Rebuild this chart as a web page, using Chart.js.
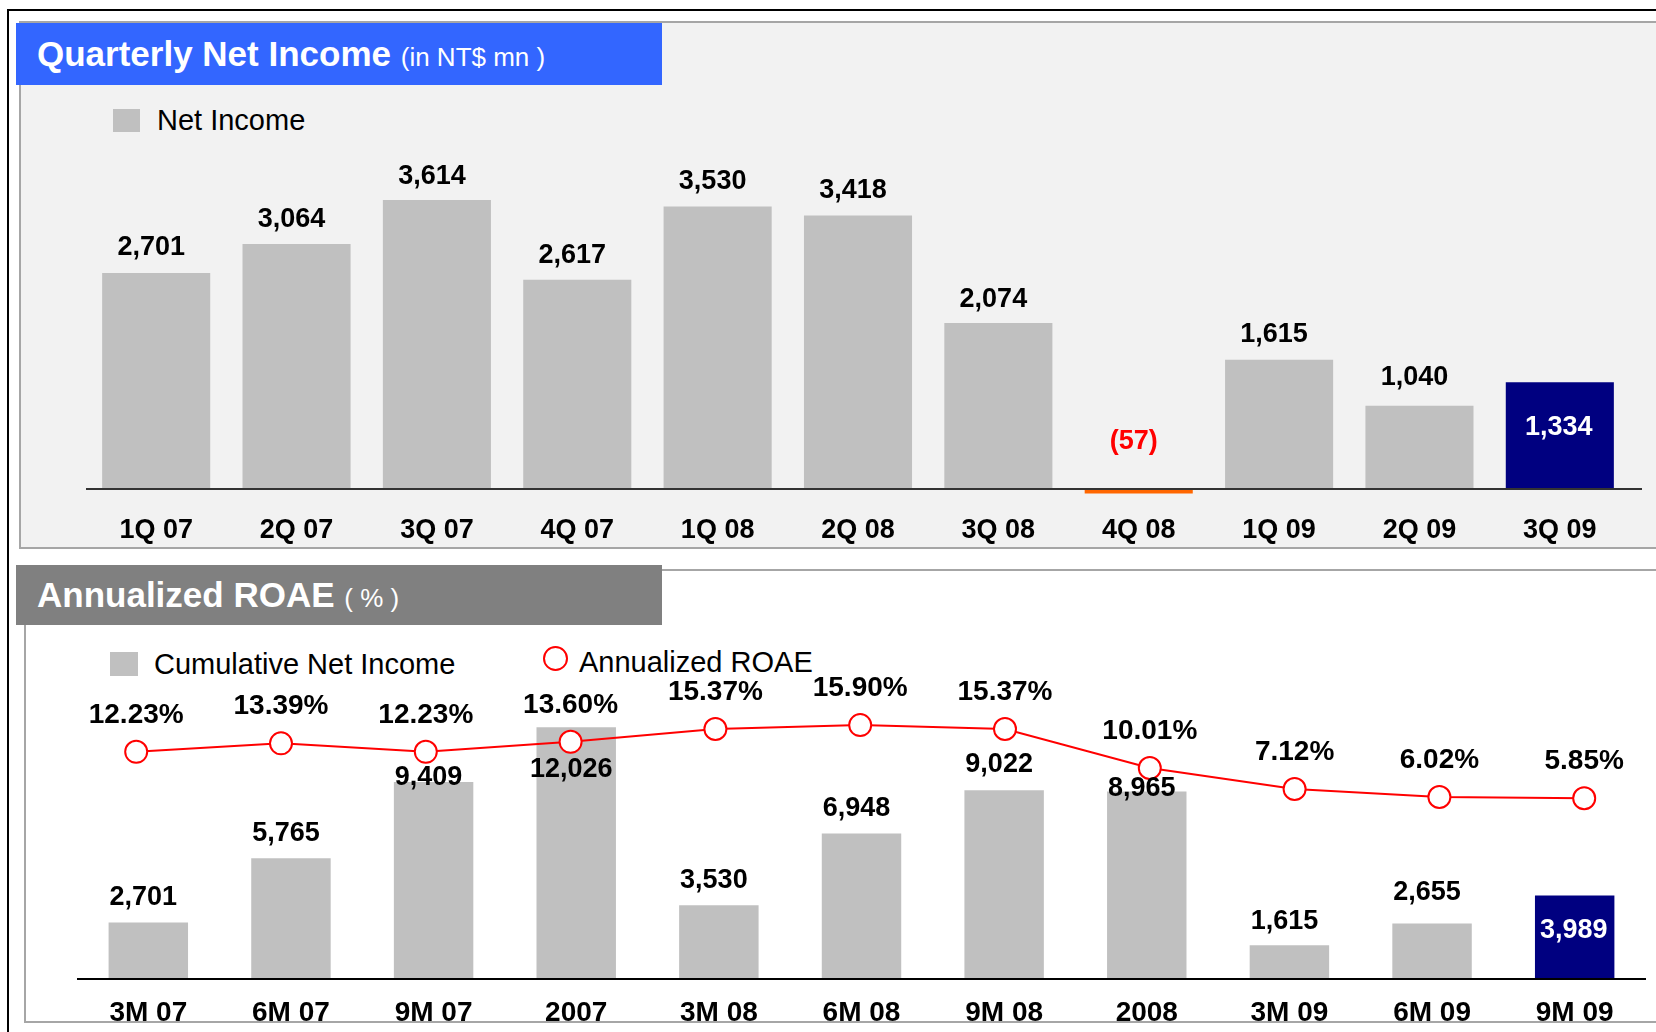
<!DOCTYPE html>
<html lang="en">
<head>
<meta charset="utf-8">
<title>Quarterly Net Income / Annualized ROAE</title>
<script src="https://cdn.jsdelivr.net/npm/chart.js@4.4.1/dist/chart.umd.min.js"></script>
<style>
    html, body { margin: 0; padding: 0; background: #fff; }
    body {
        position: relative; width: 1656px; height: 1032px; overflow: hidden;
        font-family: "Liberation Sans", Arial, sans-serif;
    }
    .abs { position: absolute; box-sizing: border-box; }
    .frame { left: 7px; top: 9px; width: 1700px; height: 1100px; border-top: 2px solid #000; border-left: 2px solid #000; }
    .panel { border: 2px solid #a6a6a6; width: 1700px; }
    #panelTop { left: 19px; top: 21px; height: 528px; background: #f2f2f2; }
    #panelBottom { left: 24px; top: 569px; height: 454px; background: #fff; }
    .header { left: 16px; width: 646px; color: #fff; padding-left: 21px; white-space: nowrap; font-size: 35px; }
    .header b { font-size: 35px; }
    .header span { font-size: 26px; }
    #headTop { top: 23px; height: 62px; line-height: 62px; background: #3366ff; }
    #headBottom { top: 565px; height: 60px; line-height: 60px; background: #808080; }
    .legend { font-size: 29px; line-height: 34px; color: #000; white-space: nowrap; }
    .swatch { background: #c0c0c0; }
    .ring { border: 2px solid #ff0000; border-radius: 50%; background: #fff; }
    canvas { position: absolute; }
</style>
</head>
<body>
<div class="abs frame"></div>

<div id="panelTop" class="abs panel"></div>
<div id="headTop" class="abs header"><b>Quarterly Net Income</b> <span>(in NT$ mn )</span></div>
<div class="abs swatch" style="left:113px; top:109px; width:27px; height:23px;"></div>
<div class="abs legend" style="left:157px; top:103px;">Net Income</div>
<canvas id="quarterChart" width="1556" height="447" style="left:86px; top:100px;"></canvas>

<div id="panelBottom" class="abs panel"></div>
<div id="headBottom" class="abs header"><b>Annualized ROAE</b> <span>( % )</span></div>
<div class="abs swatch" style="left:110px; top:652px; width:28px; height:24px;"></div>
<div class="abs legend" style="left:154px; top:647px;">Cumulative Net Income</div>
<div class="abs ring" style="left:543px; top:646px; width:25px; height:25px;"></div>
<div class="abs legend" style="left:579px; top:645px;">Annualized ROAE</div>
<canvas id="roaeChart" width="1569" height="408" style="left:77px; top:620px;"></canvas>

<script>
// ---------------- DATA ----------------
const quarters = ["1Q 07", "2Q 07", "3Q 07", "4Q 07", "1Q 08", "2Q 08", "3Q 08", "4Q 08", "1Q 09", "2Q 09", "3Q 09"];
const netIncome = [2701, 3064, 3614, 2617, 3530, 3418, 2074, -57, 1615, 1040, 1334];

const periods = ["3M 07", "6M 07", "9M 07", "2007", "3M 08", "6M 08", "9M 08", "2008", "3M 09", "6M 09", "9M 09"];
const cumulativeIncome = [2701, 5765, 9409, 12026, 3530, 6948, 9022, 8965, 1615, 2655, 3989];
const roae = [12.23, 13.39, 12.23, 13.60, 15.37, 15.90, 15.37, 10.01, 7.12, 6.02, 5.85];

// ---------------- STYLE ----------------
const FONT = "'Liberation Sans', Arial, sans-serif";
const GREY = "#c0c0c0";
const NAVY = "#000080";
const ORANGE = "#ff6600";
const RED = "#ff0000";

// px between bar top and its value label, as the labels sit on the slide
const quarterLift = [25, 24, 23, 24, 25, 25, 24, 47, 25, 28, -45];
const cumulativeLift = [25, 25, 5, -42, 25, 25, 26, 3, 24, 31, -35];
const roaeLift = 37;

function fmt(v) {
    const s = Math.abs(v).toLocaleString("en-US");
    return v < 0 ? "(" + s + ")" : s;
}

function barColors(values) {
    return values.map((v, i) => i === values.length - 1 ? NAVY : (v < 0 ? ORANGE : GREY));
}

function labelColors(values) {
    return values.map((v, i) => i === values.length - 1 ? "#fff" : (v < 0 ? RED : "#000"));
}

// ---------------- PLUGINS ----------------
function baseline(color, extend) {
    return {
        id: "baseline",
        afterDatasetsDraw(chart) {
            const { ctx, chartArea, scales } = chart;
            const y = Math.round(scales.y.getPixelForValue(0));
            ctx.save();
            ctx.strokeStyle = color;
            ctx.lineWidth = 2;
            ctx.beginPath();
            ctx.moveTo(chartArea.left, y);
            ctx.lineTo(chartArea.right + extend, y);
            ctx.stroke();
            ctx.restore();
        }
    };
}

function barLabels(datasetIndex, values, lifts, size) {
    const colors = labelColors(values);
    return {
        id: "barLabels",
        afterDatasetsDraw(chart) {
            const ctx = chart.ctx;
            const meta = chart.getDatasetMeta(datasetIndex);
            ctx.save();
            ctx.font = "bold " + size + "px " + FONT;
            ctx.textAlign = "center";
            ctx.textBaseline = "middle";
            meta.data.forEach((bar, i) => {
                const top = Math.min(bar.y, bar.base);
                const dx = colors[i] === "#fff" ? -1 : -5;
                ctx.fillStyle = colors[i];
                ctx.fillText(fmt(values[i]), bar.x + dx, top - lifts[i]);
            });
            ctx.restore();
        }
    };
}

function pointLabels(datasetIndex, values, lift, size) {
    return {
        id: "pointLabels",
        afterDatasetsDraw(chart) {
            const ctx = chart.ctx;
            const meta = chart.getDatasetMeta(datasetIndex);
            ctx.save();
            ctx.font = "bold " + size + "px " + FONT;
            ctx.textAlign = "center";
            ctx.textBaseline = "middle";
            ctx.fillStyle = "#000";
            meta.data.forEach((pt, i) => {
                ctx.fillText(values[i].toFixed(2) + "%", pt.x, pt.y - lift);
            });
            ctx.restore();
        }
    };
}

function categoryAxis(size, pad, height) {
    return {
        type: "category",
        grid: { display: false, drawTicks: false },
        border: { display: false },
        ticks: {
            color: "#000",
            font: { family: FONT, size: size, weight: "bold" },
            padding: pad,
            maxRotation: 0,
            autoSkip: false
        },
        afterFit(scale) { scale.height = height; }
    };
}

const common = {
    responsive: false,
    animation: false,
    events: [],
    plugins: { legend: { display: false }, tooltip: { enabled: false } }
};

// ---------------- QUARTERLY NET INCOME ----------------
new Chart(document.getElementById("quarterChart"), {
    type: "bar",
    data: {
        labels: quarters,
        datasets: [{
            label: "Net Income",
            data: netIncome,
            backgroundColor: barColors(netIncome),
            categoryPercentage: 1,
            barPercentage: 0.77
        }]
    },
    options: {
        ...common,
        layout: { autoPadding: false, padding: { top: 37, right: 12, left: 0, bottom: 0 } },
        scales: {
            x: categoryAxis(27, 13, 46),
            y: { display: false, min: -150, max: 4400 }
        }
    },
    plugins: [baseline("#333", 12), barLabels(0, netIncome, quarterLift, 27)]
});

// ---------------- ANNUALIZED ROAE ----------------
// the ROAE markers on the slide are spread a little wider than the bars,
// so the line runs on its own hidden linear x axis
new Chart(document.getElementById("roaeChart"), {
    type: "bar",
    data: {
        labels: periods,
        datasets: [{
            type: "line",
            label: "Annualized ROAE",
            data: roae.map((v, i) => ({ x: i, y: v })),
            xAxisID: "x2",
            yAxisID: "y2",
            borderColor: RED,
            borderWidth: 2,
            pointRadius: 11,
            pointBackgroundColor: "#fff",
            pointBorderColor: RED,
            pointBorderWidth: 2,
            tension: 0,
            clip: false,
            order: 0
        }, {
            label: "Cumulative Net Income",
            data: cumulativeIncome,
            backgroundColor: barColors(cumulativeIncome),
            categoryPercentage: 1,
            barPercentage: 0.557,
            grouped: false,
            order: 1
        }]
    },
    options: {
        ...common,
        layout: { autoPadding: false, padding: { top: 20, right: 0, left: 0, bottom: 0 } },
        scales: {
            x: categoryAxis(28, 17, 49),
            y: { display: false, min: 0, max: 16200 },
            x2: {
                type: "linear", axis: "x", display: false,
                offset: false, bounds: "data", grid: { offset: false },
                min: -0.4088, max: 10.4268
            },
            y2: { type: "linear", axis: "y", display: false, min: -19, max: 27.6 }
        }
    },
    plugins: [baseline("#000", 0), barLabels(1, cumulativeIncome, cumulativeLift, 27), pointLabels(0, roae, roaeLift, 28)]
});
</script>
</body>
</html>
